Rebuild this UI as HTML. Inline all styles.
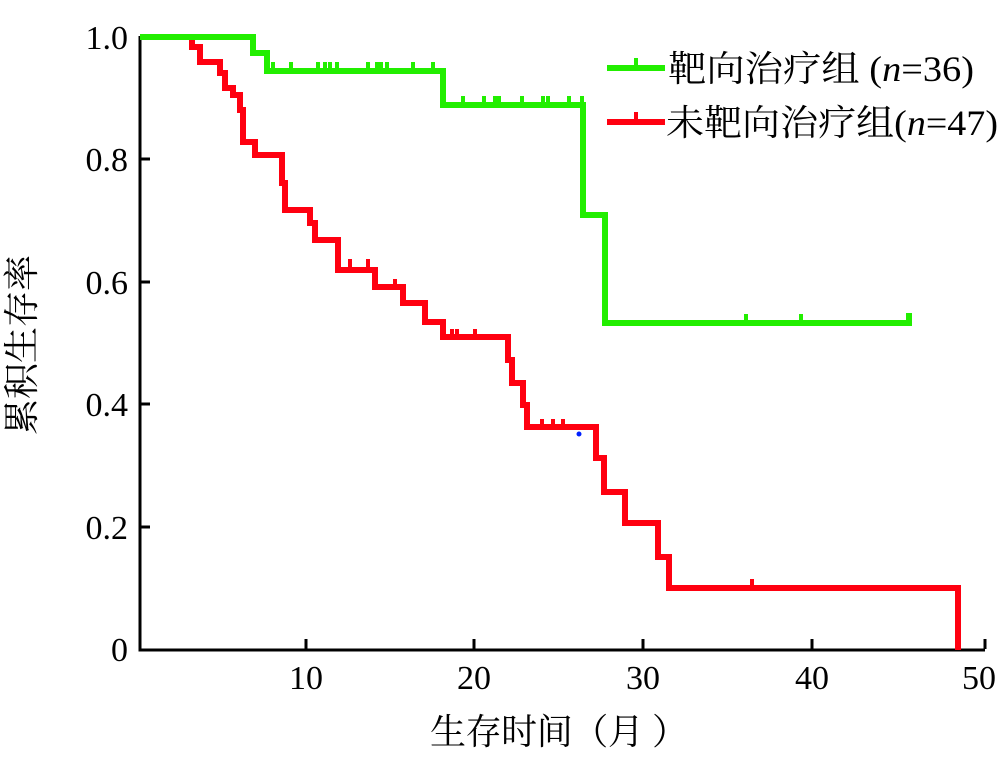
<!DOCTYPE html>
<html><head><meta charset="utf-8"><style>
body{margin:0;background:#fff}
text{font-family:"Liberation Serif","Noto Serif CJK SC",serif;fill:#000}
</style></head><body>
<svg width="1000" height="771" viewBox="0 0 1000 771" xmlns="http://www.w3.org/2000/svg">
<g stroke="#000" stroke-width="3" fill="none">
<path d="M140,36 V650 H985"/>
<path d="M140,37 h10 M140,159 h10 M140,282 h10 M140,404 h10 M140,527 h10"/>
<path d="M306,649 v-10 M474,649 v-10 M643,649 v-10 M812,649 v-10 M985,649 v-10"/>
</g>
<g font-size="34" text-anchor="end">
<text x="128" y="49">1.0</text><text x="128" y="171">0.8</text><text x="128" y="294">0.6</text>
<text x="128" y="416">0.4</text><text x="128" y="539">0.2</text><text x="128" y="661">0</text>
</g>
<g font-size="34" text-anchor="middle">
<text x="306" y="689">10</text><text x="474" y="689">20</text><text x="643" y="689">30</text>
<text x="812" y="689">40</text><text x="979" y="689">50</text>
</g>
<text x="430" y="744" font-size="36" textLength="258" lengthAdjust="spacing">生存时间（月 ）</text>
<text transform="translate(34,345) rotate(-90)" font-size="36" text-anchor="middle">累积生存率</text>
<!-- red -->
<g stroke="#ff0010" stroke-width="6" fill="none">
<path d="M140,37 H192 V47 H200 V62 H220 V73 H225 V88 H233 V95 H240 V110 H243 V142 H255 V155 H282 V183 H285 V210 H310 V223 H315 V240 H338 V270 H375 V287 H403 V303 H425 V322 H443 V337 H508 V360 H512 V383 H523 V405 H527 V427 H596 V458 H604 V492 H625 V523 H658 V557 H669 V588 H958 V650"/>
<path d="M350,267 v-8 M368,267 v-8 M395,287 v-8 M452,337 v-8 M457,337 v-8 M475,337 v-8 M542,427 v-8 M553,427 v-8 M563,427 v-8 M752,588 v-9 M636,122 v-10" stroke-width="4"/>
<path d="M607,122 H665"/>
</g>
<!-- green -->
<g stroke="#22ee00" stroke-width="6" fill="none">
<path d="M140,37 H253 V53 H267 V71 H443 V105 H583 V215 H605 V323 H909 V313"/>
<path d="M273,71 v-9 M291,71 v-9 M318,71 v-9 M325,71 v-9 M330,71 v-9 M337,71 v-9 M368,71 v-9 M377,71 v-9 M381,71 v-9 M387,71 v-9 M413,71 v-9 M433,71 v-9 M463,105 v-9 M484,105 v-9 M495,105 v-9 M499,105 v-9 M522,105 v-9 M543,105 v-9 M548,105 v-9 M569,105 v-9 M582,105 v-9 M746,323 v-9 M801,323 v-9 M636,68 v-10" stroke-width="4"/>
<path d="M607,68 H665"/>
</g>
<circle cx="579" cy="434" r="2.5" fill="#0020ff"/>
<text x="668" y="81" font-size="36" textLength="306" lengthAdjust="spacingAndGlyphs">靶向治疗组 (<tspan font-style="italic">n</tspan>=36)</text>
<text x="666" y="135" font-size="36" textLength="332" lengthAdjust="spacingAndGlyphs">未靶向治疗组(<tspan font-style="italic">n</tspan>=47)</text>
</svg>
</body></html>
